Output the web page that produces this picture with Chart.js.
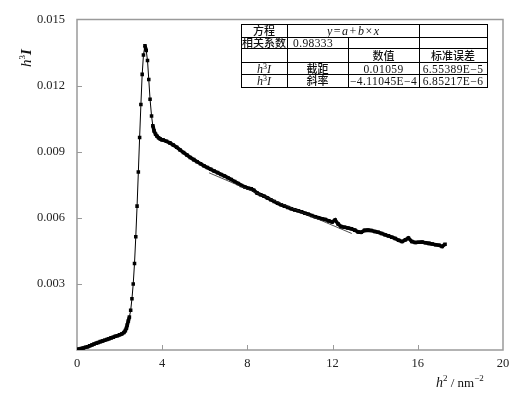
<!DOCTYPE html>
<html>
<head>
<meta charset="utf-8">
<script src="https://cdn.jsdelivr.net/npm/chart.js@4.4.1/dist/chart.umd.min.js"></script>
<style>
  html, body { margin: 0; padding: 0; background: #fff; }
</style>
</head>
<body>
<canvas id="chart" width="522" height="397"></canvas>
<script>
// ---- data ----
const hSq = [
    0.00, 0.10, 0.20, 0.30, 0.40, 0.50, 0.60, 0.70, 0.80, 0.90,
    1.00, 1.10, 1.20, 1.30, 1.40, 1.50, 1.60, 1.70, 1.80, 1.90,
    2.00, 2.10, 2.20, 2.27, 2.32, 2.36, 2.41, 2.46, 2.52, 2.58,
    2.64, 2.70, 2.76, 2.82, 2.88, 2.94, 3.00, 3.06, 3.12, 3.19,
    3.25, 3.31, 3.37, 3.43, 3.50, 3.56, 3.62, 3.69, 3.76, 3.83,
    3.91, 3.98, 4.05, 4.20, 4.36, 4.52, 4.68, 4.84, 5.00, 5.16,
    5.32, 5.48, 5.64, 5.80, 5.96, 6.12, 6.28, 6.44, 6.60, 6.76,
    6.92, 7.08, 7.24, 7.40, 7.56, 7.72, 7.88, 8.04, 8.18, 8.30,
    8.46, 8.62, 8.78, 8.94, 9.10, 9.26, 9.42, 9.58, 9.74, 9.90,
    10.06, 10.22, 10.38, 10.54, 10.70, 10.86, 11.02, 11.18, 11.34, 11.50,
    11.66, 11.82, 11.98, 12.12, 12.26, 12.40, 12.56, 12.72, 12.88, 13.04,
    13.20, 13.34, 13.50, 13.66, 13.82, 13.98, 14.14, 14.30, 14.46, 14.62,
    14.78, 14.94, 15.10, 15.26, 15.42, 15.56, 15.72, 15.88, 16.04, 16.20,
    16.36, 16.52, 16.68, 16.84, 17.00, 17.14, 17.28
];
const h3I = [
    0.00002, 0.00004, 0.00007, 0.00009, 0.00012, 0.00015, 0.00019, 0.00023, 0.00027, 0.00031,
    0.00034, 0.00038, 0.00041, 0.00044, 0.00048, 0.00051, 0.00055, 0.00058, 0.00062, 0.00065,
    0.00069, 0.00073, 0.00079, 0.00088, 0.00099, 0.00113, 0.00132, 0.00150, 0.00180, 0.00233,
    0.00300, 0.00393, 0.00514, 0.00653, 0.00808, 0.00964, 0.01114, 0.01251, 0.01339, 0.01381,
    0.01359, 0.01314, 0.01228, 0.01138, 0.01062, 0.01018, 0.00994, 0.00979, 0.00970, 0.00963,
    0.00958, 0.00954, 0.00953, 0.00947, 0.00940, 0.00930, 0.00920, 0.00908, 0.00896, 0.00885,
    0.00874, 0.00864, 0.00854, 0.00845, 0.00836, 0.00828, 0.00820, 0.00812, 0.00805, 0.00797,
    0.00790, 0.00782, 0.00774, 0.00765, 0.00756, 0.00747, 0.00740, 0.00734, 0.00732, 0.00725,
    0.00712, 0.00705, 0.00698, 0.00690, 0.00682, 0.00674, 0.00666, 0.00659, 0.00653, 0.00647,
    0.00641, 0.00636, 0.00632, 0.00627, 0.00621, 0.00616, 0.00610, 0.00605, 0.00600, 0.00596,
    0.00592, 0.00586, 0.00581, 0.00590, 0.00572, 0.00560, 0.00557, 0.00554, 0.00550, 0.00544,
    0.00536, 0.00534, 0.00543, 0.00544, 0.00542, 0.00538, 0.00534, 0.00529, 0.00523, 0.00518,
    0.00512, 0.00506, 0.00498, 0.00492, 0.00500, 0.00508, 0.00492, 0.00488, 0.00489, 0.00490,
    0.00487, 0.00484, 0.00481, 0.00478, 0.00475, 0.00470, 0.00480
];

const xTicks = [0, 4, 8, 12, 16, 20];
const yTicks = [0.003, 0.006, 0.009, 0.012, 0.015];

// linear fit y = a + b*x, drawn over this h^2 range
const fitIntercept = 0.01059;
const fitSlope = -4.11045e-4;
const fitRange = [6.2, 12.9];

// fit result table (row 1 col 2 spans two columns)
const tableRows = [
    ['方程', 'y=a+b×x', '', ''],
    ['相关系数', '0.98333', '', ''],
    ['', '', '数值', '标准误差'],
    ['h³I', '截距', '0.01059', '6.55389E−5'],
    ['h³I', '斜率', '−4.11045E−4', '6.85217E−6']
];

// =====================================================
// helpers
// =====================================================
const SERIF = "'Liberation Serif', 'DejaVu Serif', serif";
const CJK = "'Noto Sans CJK SC', sans-serif";

// draw a list of text runs [text, font, dy, spacing] starting at x
function drawRuns(ctx, runs, x, y) {
    let cx = x;
    runs.forEach(r => {
        ctx.font = r[1];
        ctx.letterSpacing = (r[3] || 0) + 'px';
        ctx.fillText(r[0], cx, y + (r[2] || 0));
        cx += ctx.measureText(r[0]).width;
    });
    ctx.letterSpacing = '0px';
}
function runsWidth(ctx, runs) {
    let w = 0;
    runs.forEach(r => {
        ctx.font = r[1];
        ctx.letterSpacing = (r[3] || 0) + 'px';
        w += ctx.measureText(r[0]).width;
    });
    ctx.letterSpacing = '0px';
    return w;
}

const it = sz => `italic ${sz}px ${SERIF}`;
const rm = sz => `${sz}px ${SERIF}`;

function cellRuns(text) {
    if (text === 'h³I') return [['h', it(12)], ['3', rm(8), -4], ['I', it(12)]];
    if (text === 'y=a+b×x') return [['y', it(12), 0, 1.5], ['=', rm(12), 0, 1.5], ['a', it(12), 0, 1.5],
        ['+', rm(12), 0, 1.5], ['b', it(12), 0, 1.5], ['×', rm(12), 0, 1.5], ['x', it(12)]];
    if (/[\u4e00-\u9fff]/.test(text)) return [[text, `500 11px ${CJK}`]];
    return [[text, rm(11.5), 0, 0.4]];
}

const framePlugin = {
    id: 'frame',
    beforeDatasetsDraw(chart) {
        const { ctx, chartArea: a, scales } = chart;
        ctx.save();
        ctx.strokeStyle = '#9a9a9a';
        ctx.lineWidth = 1.5;
        ctx.strokeRect(a.left, a.top, a.right - a.left, a.bottom - a.top);
        // inward tick marks
        ctx.lineWidth = 1;
        xTicks.slice(1, -1).forEach(v => {
            const px = Math.round(scales.x.getPixelForValue(v)) + 0.5;
            ctx.beginPath(); ctx.moveTo(px, a.bottom); ctx.lineTo(px, a.bottom - 5); ctx.stroke();
        });
        yTicks.slice(0, -1).forEach(v => {
            const py = Math.round(scales.y.getPixelForValue(v)) + 0.5;
            ctx.beginPath(); ctx.moveTo(a.left, py); ctx.lineTo(a.left + 5, py); ctx.stroke();
        });
        ctx.restore();
    },
    afterDraw(chart) {
        const { ctx } = chart;
        ctx.save();
        ctx.fillStyle = '#111';
        ctx.textBaseline = 'alphabetic';
        ctx.textAlign = 'left';

        // x axis title
        drawRuns(ctx, [['h', it(14)], ['2', rm(9), -6], [' / nm', rm(13)], ['−2', rm(9), -6]], 436, 387);

        // y axis title (rotated)
        ctx.save();
        ctx.translate(31, 67);
        ctx.rotate(-Math.PI / 2);
        drawRuns(ctx, [['h', it(15)], ['3', rm(9), -6], ['I', `bold italic 15px ${SERIF}`]], 0, 0);
        ctx.restore();

        // table
        const cols = [241, 287, 348, 419, 487];
        const rows = [24, 37, 48, 62, 74, 87];
        ctx.strokeStyle = '#000';
        ctx.lineWidth = 1;
        ctx.beginPath();
        rows.forEach(y => { ctx.moveTo(cols[0], y + 0.5); ctx.lineTo(cols[4] + 1, y + 0.5); });
        [0, 1, 3, 4].forEach(i => { ctx.moveTo(cols[i] + 0.5, rows[0]); ctx.lineTo(cols[i] + 0.5, rows[5] + 1); });
        ctx.moveTo(cols[2] + 0.5, rows[1]); ctx.lineTo(cols[2] + 0.5, rows[5] + 1);
        ctx.stroke();

        tableRows.forEach((row, r) => {
            const yBase = (rows[r] + rows[r + 1]) / 2 + 4.5;
            row.forEach((txt, c) => {
                if (!txt) return;
                const runs = cellRuns(txt);
                const w = runsWidth(ctx, runs);
                let x0 = cols[c], x1 = cols[c + 1];
                if (r === 0 && c === 1) x1 = cols[3];
                let x = (x0 + x1) / 2 - w / 2;
                if (r === 1 && c === 1) x = x0 + 6;
                drawRuns(ctx, runs, x, yBase);
            });
        });
        ctx.restore();
    }
};

const points = hSq.map((x, i) => ({ x: x, y: h3I[i] }));
const fitPoints = fitRange.map(x => ({ x: x, y: fitIntercept + fitSlope * x }));

new Chart(document.getElementById('chart'), {
    type: 'scatter',
    data: {
        datasets: [{
            data: fitPoints,
            showLine: true,
            borderColor: '#222',
            borderWidth: 0.8,
            pointRadius: 0
        }, {
            data: points,
            showLine: true,
            borderColor: '#000',
            borderWidth: 1,
            // where the markers crowd together the trace reads as one thick line
            segment: {
                borderWidth: c => Math.hypot(c.p1.x - c.p0.x, c.p1.y - c.p0.y) < 6 ? 3.6 : 1
            },
            pointStyle: 'rect',
            pointRadius: 2.5,
            pointBackgroundColor: '#000',
            pointBorderWidth: 0
        }]
    },
    options: {
        responsive: false,
        devicePixelRatio: 1,
        animation: false,
        layout: { padding: { top: 17, right: 19, left: 0, bottom: 0 } },
        plugins: { legend: { display: false }, tooltip: { enabled: false } },
        scales: {
            x: {
                type: 'linear', min: 0, max: 20,
                afterBuildTicks: axis => { axis.ticks = xTicks.map(v => ({ value: v })); },
                afterFit: axis => { axis.height = 47; },
                grid: { display: false, drawTicks: false, tickLength: 0 },
                border: { display: false },
                ticks: { color: '#222', padding: 6, maxRotation: 0, font: { family: SERIF, size: 12.5 } }
            },
            y: {
                type: 'linear', min: 0, max: 0.015,
                afterBuildTicks: axis => { axis.ticks = yTicks.map(v => ({ value: v })); },
                afterFit: axis => { axis.width = 77; },
                grid: { display: false, drawTicks: false, tickLength: 0 },
                border: { display: false },
                ticks: {
                    color: '#222', padding: 12,
                    font: { family: SERIF, size: 12.5 },
                    callback: v => v.toFixed(3)
                }
            }
        }
    },
    plugins: [framePlugin]
});
</script>
</body>
</html>
